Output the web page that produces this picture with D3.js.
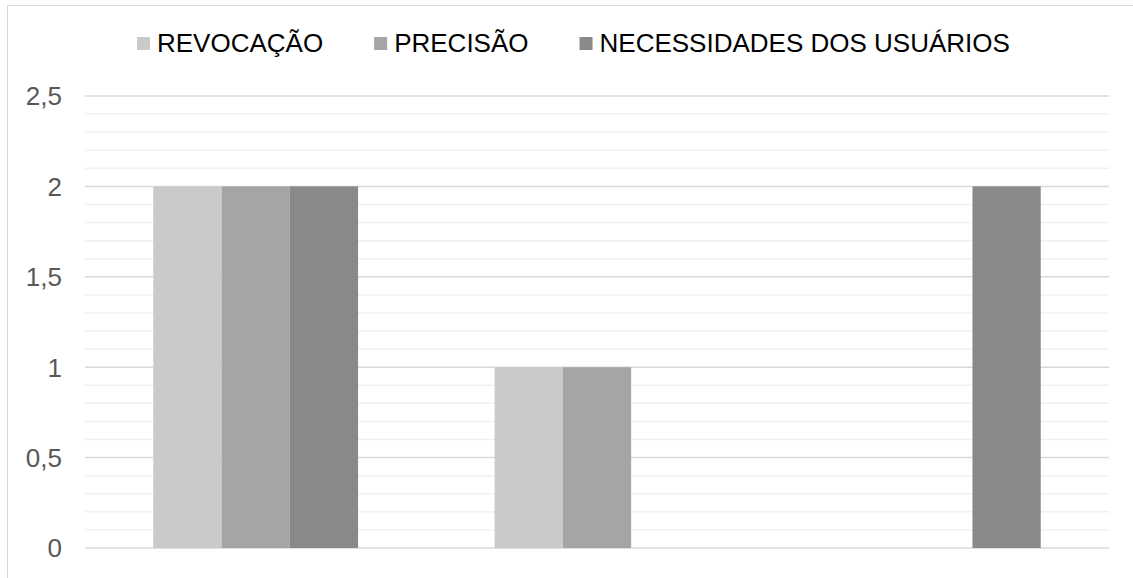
<!DOCTYPE html>
<html>
<head>
<meta charset="utf-8">
<script src="https://cdn.jsdelivr.net/npm/d3@7"></script>
<style>
  body { margin: 0; background: #fff; }
  svg { display: block; font-family: "Liberation Sans", Arial, sans-serif; }
</style>
</head>
<body>
<svg id="chart" width="1133" height="578"></svg>
<script>
var categories = ["1", "2", "3"];
var seriesNames = ["REVOCAÇÃO", "PRECISÃO", "NECESSIDADES DOS USUÁRIOS"];
var revocacao = [2, 1, 0];
var precisao = [2, 1, 0];
var necessidades = [2, 0, 2];
var seriesColors = ["#cacaca", "#a5a5a5", "#898989"];
var yTicks = [0, 0.5, 1, 1.5, 2, 2.5];
var yTickLabels = ["0", "0,5", "1", "1,5", "2", "2,5"];

var svg = d3.select("#chart");
var width = +svg.attr("width");
var height = +svg.attr("height");

var margin = {left: 85, right: width - 1109, top: 96, bottom: height - 548};

// chart frame
svg.append("rect")
    .attr("x", 7.5).attr("y", 5.5)
    .attr("width", width).attr("height", height)
    .attr("fill", "none")
    .attr("stroke", "#d9d9d9")
    .attr("stroke-width", 1);

var y = d3.scaleLinear().domain([0, 2.5]).range([height - margin.bottom, margin.top]);
var x0 = d3.scaleBand().domain(categories).range([margin.left, width - margin.right]).padding(0);
var x1 = d3.scaleBand().domain(seriesNames).range([0, x0.bandwidth()]).paddingInner(0).paddingOuter(1);

// minor gridlines
svg.append("g")
    .selectAll("line")
    .data(d3.range(0, 26).map(i => i / 10).filter(v => Math.round(v * 10) % 5 !== 0))
    .enter().append("line")
    .attr("x1", margin.left).attr("x2", width - margin.right)
    .attr("y1", d => y(d)).attr("y2", d => y(d))
    .attr("stroke", "#f0f0f0")
    .attr("stroke-width", 1.5);

// major gridlines
svg.append("g")
    .selectAll("line")
    .data(yTicks)
    .enter().append("line")
    .attr("x1", margin.left).attr("x2", width - margin.right)
    .attr("y1", d => y(d)).attr("y2", d => y(d))
    .attr("stroke", "#d9d9d9")
    .attr("stroke-width", 1.5);

// y axis labels
svg.append("g")
    .selectAll("text")
    .data(yTicks)
    .enter().append("text")
    .attr("x", 62)
    .attr("y", d => y(d))
    .attr("dy", "0.36em")
    .attr("text-anchor", "end")
    .attr("font-size", 26)
    .attr("fill", "#595959")
    .text((d, i) => yTickLabels[i]);

// bars
var seriesValues = [revocacao, precisao, necessidades];
var barData = [];
categories.forEach((c, ci) => {
    seriesNames.forEach((s, si) => {
        barData.push({cat: c, series: s, value: seriesValues[si][ci], color: seriesColors[si]});
    });
});

svg.append("g")
    .selectAll("rect")
    .data(barData.filter(d => d.value > 0))
    .enter().append("rect")
    .attr("x", d => x0(d.cat) + x1(d.series))
    .attr("y", d => y(d.value))
    .attr("width", x1.bandwidth())
    .attr("height", d => y(0) - y(d.value))
    .attr("fill", d => d.color);

// legend
var legend = svg.append("g");
var lx = 137;
seriesNames.forEach((s, i) => {
    legend.append("rect")
        .attr("x", lx).attr("y", 37)
        .attr("width", 13).attr("height", 13)
        .attr("fill", seriesColors[i]);
    var t = legend.append("text")
        .attr("x", lx + 20)
        .attr("y", 52)
        .attr("font-size", 26)
        .attr("fill", "#000")
        .text(s);
    lx = lx + 20 + t.node().getComputedTextLength() + 51;
});
</script>
</body>
</html>
